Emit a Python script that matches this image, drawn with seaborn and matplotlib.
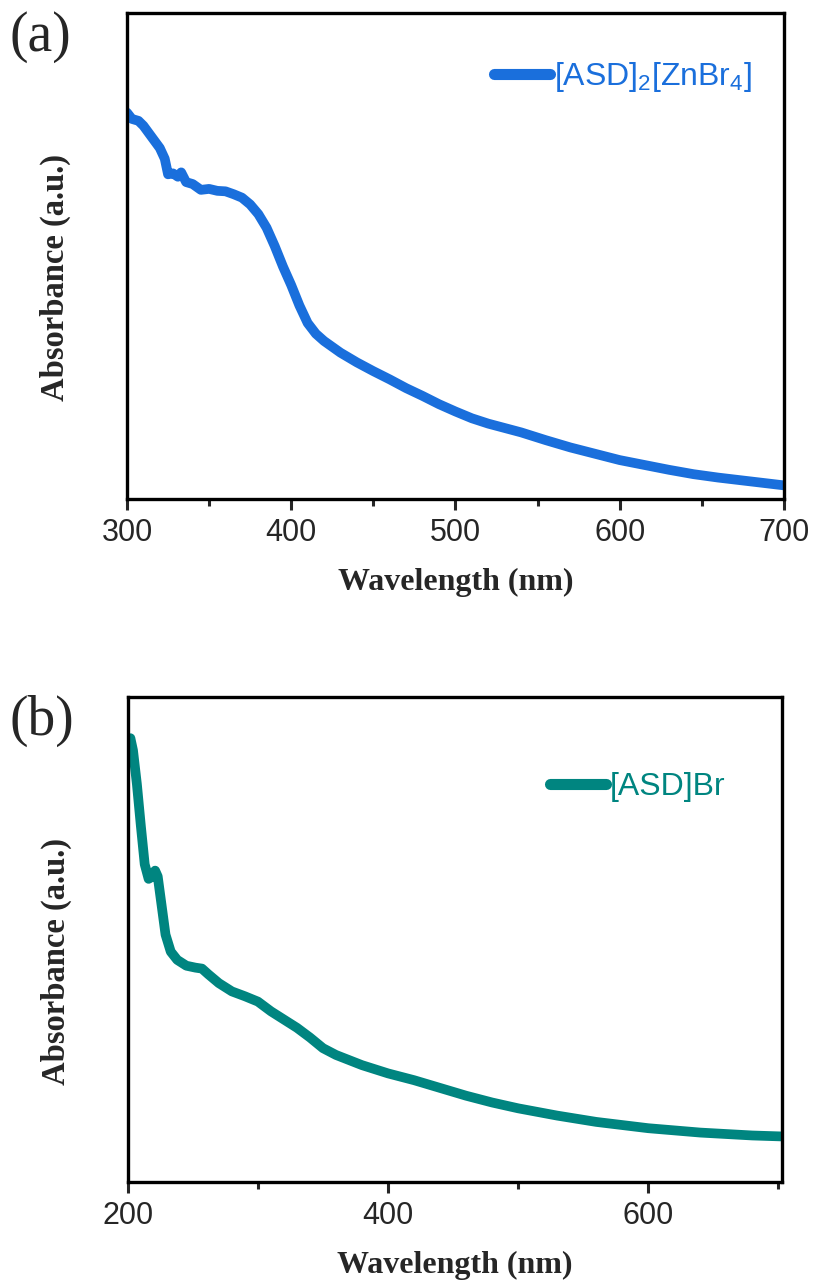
import matplotlib
matplotlib.use("Agg")
import matplotlib.pyplot as plt
from matplotlib.ticker import MultipleLocator, NullLocator
import seaborn as sns
import pandas as pd

# UV-vis absorbance of [ASD]2[ZnBr4] (normalised, arbitrary units)
wl_a = [300, 303, 307, 310, 315, 320, 323, 325, 328, 331, 333, 336, 340, 345,
        350, 355, 360, 365, 370, 375, 380, 385, 390, 395, 400, 405, 410, 415,
        420, 430, 440, 450, 460, 470, 480, 490, 500, 510, 520, 530, 540, 555,
        570, 585, 600, 615, 630, 645, 660, 680, 700]
abs_a = [0.795, 0.782, 0.778, 0.768, 0.745, 0.722, 0.700, 0.668, 0.670, 0.663,
         0.672, 0.652, 0.648, 0.636, 0.638, 0.634, 0.633, 0.627, 0.620, 0.606,
         0.586, 0.558, 0.520, 0.478, 0.440, 0.398, 0.362, 0.340, 0.325, 0.301,
         0.281, 0.263, 0.246, 0.228, 0.212, 0.195, 0.180, 0.166, 0.155, 0.146,
         0.137, 0.121, 0.106, 0.093, 0.080, 0.070, 0.060, 0.051, 0.044, 0.036,
         0.028]

# UV-vis absorbance of [ASD]Br (normalised, arbitrary units)
wl_b = [202, 204, 207, 210, 213, 216, 219, 221, 223, 226, 229, 233, 238, 245,
        252, 257, 262, 270, 280, 290, 300, 310, 320, 330, 340, 350, 360, 380,
        400, 420, 440, 460, 480, 500, 530, 560, 600, 640, 680, 703]
abs_b = [0.915, 0.890, 0.820, 0.735, 0.655, 0.625, 0.630, 0.642, 0.630, 0.570,
         0.510, 0.475, 0.458, 0.446, 0.442, 0.440, 0.428, 0.410, 0.393, 0.383,
         0.372, 0.352, 0.335, 0.318, 0.298, 0.276, 0.262, 0.241, 0.224, 0.210,
         0.194, 0.178, 0.164, 0.152, 0.137, 0.124, 0.111, 0.102, 0.096, 0.094]

panels = [
    dict(tag="(a)", wl=wl_a, ab=abs_a, label=r"[ASD]$_2$[ZnBr$_4$]",
         color="#1a6fdc", xlim=(300, 700), major=100, minor=50,
         rect=[0.156, 0.6114, 0.807, 0.3785], leg_anchor=(0.54, 0.93)),
    dict(tag="(b)", wl=wl_b, ab=abs_b, label="[ASD]Br",
         color="#008580", xlim=(200, 703), major=200, minor=100,
         rect=[0.157, 0.0794, 0.804, 0.3778], leg_anchor=(0.626, 0.872)),
]

sns.set_style("ticks")
plt.rcParams["font.family"] = ["Liberation Sans", "DejaVu Sans"]
plt.rcParams["mathtext.fontset"] = "custom"
plt.rcParams["mathtext.rm"] = "Liberation Sans"
plt.rcParams["mathtext.it"] = "Liberation Sans"

fig = plt.figure(figsize=(8.14, 12.84), dpi=100)
serif = ["Liberation Serif", "DejaVu Serif"]

for p in panels:
    ax = fig.add_axes(p["rect"])
    df = pd.DataFrame({"Wavelength": p["wl"], "Absorbance": p["ab"]})
    sns.lineplot(data=df, x="Wavelength", y="Absorbance", ax=ax,
                 color=p["color"], linewidth=7, label=p["label"],
                 solid_capstyle="round")
    ax.set_xlim(*p["xlim"])
    ax.set_ylim(0, 1)
    ax.xaxis.set_major_locator(MultipleLocator(p["major"]))
    ax.xaxis.set_minor_locator(MultipleLocator(p["minor"]))
    ax.yaxis.set_major_locator(NullLocator())
    ax.tick_params(axis="x", which="major", direction="out", length=8,
                   width=2.2, labelsize=22, pad=6, top=False)
    ax.tick_params(axis="x", which="minor", direction="out", length=5,
                   width=2.2, top=False)
    for s in ax.spines.values():
        s.set_linewidth(2.4)
        s.set_color("black")
    ax.set_xlabel("Wavelength (nm)", fontsize=23, fontweight="bold",
                  family=serif, labelpad=14)
    ax.set_ylabel("Absorbance (a.u.)", fontsize=23.5, fontweight="bold",
                  family=serif)
    ax.yaxis.set_label_coords(-0.085, 0.455)
    leg = ax.legend(loc="upper left", bbox_to_anchor=p["leg_anchor"],
                    frameon=False, fontsize=23, handlelength=1.75,
                    handletextpad=0.1, borderaxespad=0)
    for txt, line in zip(leg.get_texts(), leg.get_lines()):
        txt.set_color(p["color"])
        line.set_linewidth(8)
    fig.text(0.012, p["rect"][1] + p["rect"][3] - 0.019, p["tag"],
             fontsize=40, family=serif, va="center", ha="left")

fig.savefig("out.png", dpi=100)
